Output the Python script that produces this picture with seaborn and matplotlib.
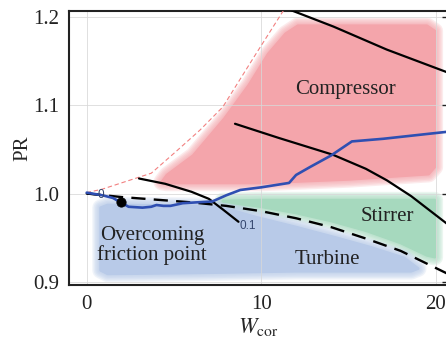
import numpy as np
import pandas as pd
import matplotlib
matplotlib.use("Agg")
import matplotlib.pyplot as plt
import seaborn as sns

# ---------------- data ----------------
surge_x = [0.0, 0.9, 3.7, 5.2, 6.5, 7.8, 9.6, 11.3]
surge_y = [1.001, 1.005, 1.023, 1.049, 1.072, 1.098, 1.155, 1.208]

speed0_x = [0.0, 0.6]
speed0_y = [1.000, 0.999]

speed1_x = [3.0, 4.5, 6.0, 7.0, 7.8, 8.7]
speed1_y = [1.017, 1.011, 1.002, 0.994, 0.982, 0.968]

speed2_x = [8.5, 11.0, 14.1, 16.0, 17.2, 18.6, 20.7]
speed2_y = [1.079, 1.063, 1.044, 1.028, 1.015, 0.997, 0.965]

speed3_x = [11.4, 14.15, 17.2, 20.7]
speed3_y = [1.210, 1.189, 1.163, 1.137]

zero_x = [0.0, 2.0, 4.0, 6.0, 8.0, 10.0, 12.0, 14.0, 16.0, 18.0, 20.7]
zero_y = [1.000, 0.996, 0.993, 0.990, 0.986, 0.980, 0.972, 0.962, 0.949, 0.935, 0.909]

op_x = [0.0, 0.9, 1.5, 2.4, 3.2, 3.7, 4.0, 4.4, 4.8, 5.5, 6.3, 7.2, 8.0, 8.8, 10.0,
        11.6, 12.0, 12.8, 14.0, 15.2, 17.0, 20.7]
op_y = [1.001, 0.998, 0.995, 0.985, 0.984, 0.985, 0.987, 0.986, 0.986, 0.989, 0.990,
        0.991, 0.998, 1.004, 1.007, 1.012, 1.021, 1.030, 1.043, 1.059, 1.062, 1.070]

friction_x = [1.95]
friction_y = [0.990]

comp_x = [4.3, 4.6, 6.1, 7.9, 9.3, 10.4, 11.4, 12.1, 19.5, 19.95, 19.95, 19.6, 15.0, 10.0, 4.6]
comp_y = [1.013, 1.021, 1.043, 1.085, 1.123, 1.158, 1.181, 1.190, 1.190, 1.184, 1.030,
          1.022, 1.016, 1.012, 1.012]

stir_x = [7.8, 10.0, 19.95, 19.95, 19.5, 18.0, 16.0, 14.0, 12.0, 10.0, 8.5]
stir_y = [0.9915, 0.9925, 0.9925, 0.928, 0.930, 0.944, 0.958, 0.969, 0.978, 0.985, 0.989]

turb_x = [0.8, 1.2, 6.5, 7.3, 8.5, 9.75, 12.0, 14.3, 16.3, 18.2, 19.0, 18.6, 12.0, 6.0, 1.2, 0.8]
turb_y = [0.984, 0.987, 0.986, 0.985, 0.980, 0.973, 0.962, 0.950, 0.939, 0.927, 0.915,
          0.912, 0.912, 0.910, 0.909, 0.913]

region_labels = ["Compressor", "Stirrer", "Turbine", "Overcoming\nfriction point"]
region_label_x = [14.86, 17.25, 13.77, 3.75]
region_label_y = [1.118, 0.974, 0.925, 0.941]

speed_labels = ["0", "0.1"]
speed_label_x = [0.6, 8.75]
speed_label_y = [0.998, 0.9635]

x_ticks = [0, 10, 20]
y_ticks = [0.9, 1.0, 1.1, 1.2]

# ---------------- style ----------------
sns.set_theme(style="white")
plt.rcParams["font.family"] = ["Liberation Serif", "DejaVu Serif"]
plt.rcParams["mathtext.fontset"] = "stix"

fig = plt.figure(figsize=(4.46, 3.42), dpi=100)
W, H = 446, 342
ax = fig.add_axes([69 / W, 1 - 285 / H, (447.5 - 69) / W, (285 - 11) / H])
ax.set_xlim(-1.015, 20.68)
ax.set_ylim(0.8964, 1.2067)

# soft-edged regions
def blob(xs, ys, color):
    for lw in [12, 10, 8, 6, 4]:
        ax.fill(xs, ys, facecolor="none", edgecolor=color, lw=lw, alpha=0.22,
                joinstyle="round", zorder=0.2)
    ax.fill(xs, ys, facecolor=color, edgecolor=color, lw=2, alpha=1.0,
            joinstyle="round", zorder=0.3)

blob(comp_x, comp_y, "#f4a5ab")
blob(stir_x, stir_y, "#a6d9be")
blob(turb_x, turb_y, "#b8cae8")

ax.set_axisbelow(True)
ax.grid(True, color="#d8d8d8", lw=0.7, alpha=0.8)

def line(xs, ys, **kw):
    df = pd.DataFrame({"x": xs, "y": ys})
    sns.lineplot(data=df, x="x", y="y", ax=ax, estimator=None, sort=False, **kw)

line(surge_x, surge_y, color="#f28080", lw=0.8, linestyle=(0, (4, 2.5)), zorder=3)
line(zero_x, zero_y, color="black", lw=1.7, linestyle=(0, (6, 3.5)), zorder=4)
line(speed0_x, speed0_y, color="black", lw=1.6, zorder=4)
line(speed1_x, speed1_y, color="black", lw=1.6, zorder=4)
line(speed2_x, speed2_y, color="black", lw=1.6, zorder=4)
line(speed3_x, speed3_y, color="black", lw=1.6, zorder=4)
line(op_x, op_y, color="#2f4fb2", lw=1.9, zorder=5)

sns.scatterplot(x=friction_x, y=friction_y, ax=ax, color="black", s=45,
                edgecolor="black", zorder=6, legend=False)

for t, x, y in zip(region_labels, region_label_x, region_label_y):
    ax.text(x, y, t, ha="center", va="center", fontsize=15, color="#222222",
            linespacing=1.05, zorder=7)
for t, x, y in zip(speed_labels, speed_label_x, speed_label_y):
    ax.text(x, y, t, ha="left", va="center", fontsize=8.5, color="#34466e",
            family=["Liberation Sans", "DejaVu Sans"], zorder=7)

ax.set_xticks(x_ticks)
ax.set_yticks(y_ticks)
ax.set_xticklabels([str(v) for v in x_ticks])
ax.set_yticklabels([f"{v:.1f}" for v in y_ticks])
ax.tick_params(direction="in", length=4, width=1.0, labelsize=15, color="#222222",
               labelcolor="#222222", right=True, pad=7)
for s in ax.spines.values():
    s.set_color("#222222")
    s.set_linewidth(1.5)

ax.set_xlabel(r"$W_{\mathrm{cor}}$", fontsize=16, labelpad=2)
ax.set_ylabel("PR", fontsize=15, labelpad=1)

fig.savefig("out.png", dpi=100)
